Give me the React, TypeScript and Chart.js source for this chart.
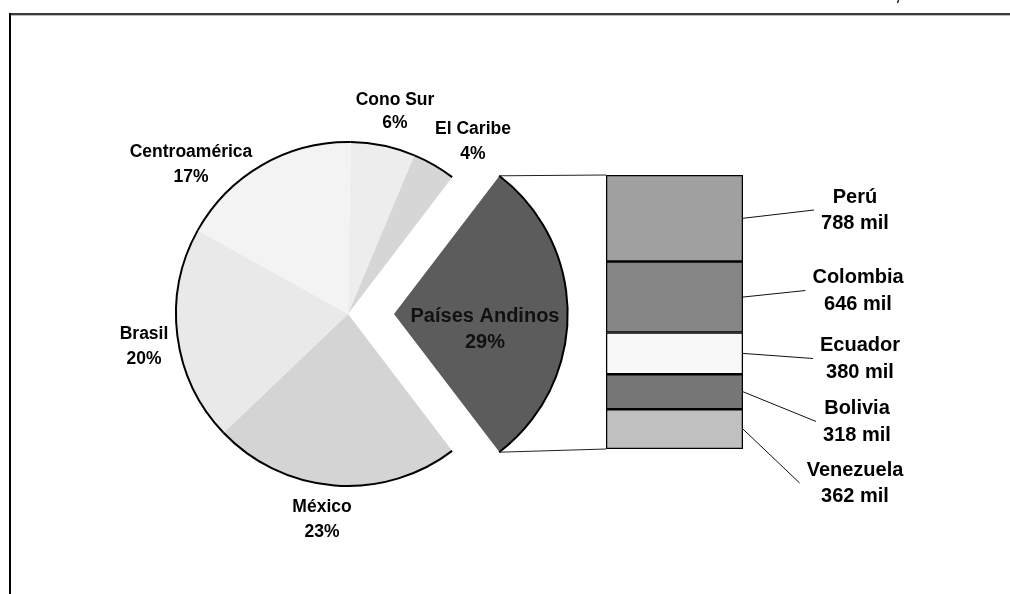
import React, { useEffect, useRef } from 'react';
import { Chart, registerables } from 'chart.js';

Chart.register(...registerables);

// ---- data ----
const pieLabels = ['Países Andinos', 'México', 'Brasil', 'Centroamérica', 'Cono Sur', 'El Caribe'];
const pieValues = [29, 23, 20, 17, 6, 4];
const pieColors = ['#5c5c5c', '#d4d4d4', '#e9e9e9', '#f3f3f3', '#ededed', '#d6d6d6'];

const barLabels = ['Perú', 'Colombia', 'Ecuador', 'Bolivia', 'Venezuela'];
const barValues = [788, 646, 380, 318, 362];
const barColors = ['#a0a0a0', '#868686', '#f8f8f8', '#777777', '#c0c0c0'];
const barUnit = 'mil';

// ---- layout (label centers: x, line1 y, line2 y) ----
const pieLabelPos = [
  [485, 316, 342],
  [322, 507, 532],
  [144, 334, 359],
  [191, 152, 177],
  [395, 100, 123],
  [473, 129, 154],
];
const barLabelPos = [
  [855, 197, 223],
  [858, 277, 304],
  [860, 345, 372],
  [857, 408, 435],
  [855, 470, 496],
];

const FONT_FAMILY = '"Liberation Sans", Arial, Helvetica, sans-serif';
const W = 1010;
const H = 594;

export default function App() {
  const barRef = useRef<HTMLCanvasElement | null>(null);
  const pieRef = useRef<HTMLCanvasElement | null>(null);

  useEffect(() => {
    if (!barRef.current || !pieRef.current) return;
    const barTotal = barValues.reduce((a, b) => a + b, 0);
    const pieTotal = pieValues.reduce((a, b) => a + b, 0);
    const n = barLabels.length;

    const barPlugin = {
      id: 'barDeco',
      afterDatasetsDraw(chart: any) {
        const ctx = chart.ctx as CanvasRenderingContext2D;
        ctx.save();
        ctx.font = `bold 20px ${FONT_FAMILY}`;
        ctx.textAlign = 'center';
        ctx.textBaseline = 'middle';
        for (let i = 0; i < n; i++) {
          const meta = chart.getDatasetMeta(n - 1 - i);
          const el = meta.data[0];
          const p = el.getProps(['x', 'y', 'base', 'width'], true);
          const right = p.x + p.width / 2;
          const midY = (p.y + p.base) / 2;
          const [cx, y1, y2] = barLabelPos[i];
          const l1 = barLabels[i];
          const l2 = `${barValues[i]} ${barUnit}`;
          const mw = Math.max(ctx.measureText(l1).width, ctx.measureText(l2).width);
          const endX = cx - mw / 2 - 7;
          const endY = (y1 + y2) / 2;
          ctx.strokeStyle = '#111';
          ctx.lineWidth = 1;
          ctx.beginPath();
          ctx.moveTo(right, midY);
          ctx.lineTo(endX, endY);
          ctx.stroke();
          ctx.fillStyle = '#000';
          ctx.fillText(l1, cx, y1);
          ctx.fillText(l2, cx, y2);
        }
        ctx.restore();
      },
    };

    const barChart = new Chart(barRef.current, {
      type: 'bar',
      data: {
        labels: ['Países Andinos'],
        datasets: barLabels
          .map((lab, i) => ({
            label: lab,
            data: [barValues[i]],
            backgroundColor: barColors[i],
            borderColor: '#000',
            borderWidth: 1.6,
            borderSkipped: false as any,
            barPercentage: 1,
            categoryPercentage: 1,
          }))
          .reverse(),
      },
      options: {
        responsive: false,
        animation: false,
        devicePixelRatio: 1,
        events: [],
        layout: { padding: { left: 606, right: W - 743, top: 175, bottom: H - 449 } },
        scales: {
          x: { display: false, stacked: true },
          y: { display: false, stacked: true, min: 0, max: barTotal },
        },
        plugins: { legend: { display: false }, tooltip: { enabled: false } },
      },
      plugins: [barPlugin],
    } as any);

    const piePlugin = {
      id: 'pieDeco',
      beforeDraw(chart: any) {
        const ctx = chart.ctx as CanvasRenderingContext2D;
        ctx.save();
        // frame
        ctx.fillStyle = '#3a3a3a';
        ctx.fillRect(9, 13, W - 9, 2);
        ctx.fillStyle = '#bdbdbd';
        ctx.fillRect(11, 15, W - 11, 1);
        ctx.fillStyle = '#000';
        ctx.fillRect(9, 13, 2, H - 13);
        // small mark at top
        ctx.strokeStyle = '#222';
        ctx.lineWidth = 1.5;
        ctx.beginPath();
        ctx.moveTo(898.5, 0);
        ctx.lineTo(897.5, 3);
        ctx.stroke();
        ctx.restore();
      },
      afterDatasetsDraw(chart: any) {
        const ctx = chart.ctx as CanvasRenderingContext2D;
        const meta = chart.getDatasetMeta(0);
        ctx.save();
        const geo = meta.data.map((arc: any) => {
          const p = arc.getProps(['x', 'y', 'startAngle', 'endAngle', 'outerRadius'], true);
          const off = (arc.options.offset || 0) / 4;
          const mid = (p.startAngle + p.endAngle) / 2;
          const circ = p.endAngle - p.startAngle;
          const fix = 1 - Math.sin(Math.min(Math.PI, circ));
          return {
            cx: p.x + Math.cos(mid) * off,
            cy: p.y + Math.sin(mid) * off,
            r: p.outerRadius + off * fix,
            s: p.startAngle,
            e: p.endAngle,
          };
        });
        // outer arcs
        ctx.strokeStyle = '#000';
        ctx.lineWidth = 2;
        geo.forEach((g: any) => {
          ctx.beginPath();
          ctx.arc(g.cx, g.cy, g.r, g.s, g.e);
          ctx.stroke();
        });
        // connectors to bar
        const g0 = geo[0];
        const topEl = barChart.getDatasetMeta(n - 1).data[0] as any;
        const botEl = barChart.getDatasetMeta(0).data[0] as any;
        const tp = topEl.getProps(['x', 'y', 'width'], true);
        const bp = botEl.getProps(['x', 'base', 'width'], true);
        ctx.strokeStyle = '#222';
        ctx.lineWidth = 1;
        ctx.beginPath();
        ctx.moveTo(g0.cx + g0.r * Math.cos(g0.s), g0.cy + g0.r * Math.sin(g0.s));
        ctx.lineTo(tp.x - tp.width / 2, tp.y);
        ctx.moveTo(g0.cx + g0.r * Math.cos(g0.e), g0.cy + g0.r * Math.sin(g0.e));
        ctx.lineTo(bp.x - bp.width / 2, bp.base);
        ctx.stroke();
        // labels
        ctx.textAlign = 'center';
        ctx.textBaseline = 'middle';
        pieLabels.forEach((lab, i) => {
          const [x, y1, y2] = pieLabelPos[i];
          ctx.font = i === 0 ? `bold 20px ${FONT_FAMILY}` : `bold 17.5px ${FONT_FAMILY}`;
          ctx.fillStyle = i === 0 ? '#111' : '#000';
          ctx.fillText(lab, x, y1);
          ctx.fillText(`${pieValues[i]}%`, x, y2);
        });
        ctx.restore();
      },
    };

    const pieChart = new Chart(pieRef.current, {
      type: 'pie',
      data: {
        labels: pieLabels,
        datasets: [
          {
            data: pieValues,
            backgroundColor: pieColors,
            borderWidth: 0,
            offset: pieValues.map((_, i) => (i === 0 ? 184 : 0)),
          },
        ],
      },
      options: {
        responsive: false,
        animation: false,
        devicePixelRatio: 1,
        events: [],
        rotation: 90 - (pieValues[0] / pieTotal) * 180,
        radius: 172,
        layout: { padding: { left: 176, right: W - 520, top: 142, bottom: H - 486 } },
        plugins: { legend: { display: false }, tooltip: { enabled: false } },
      },
      plugins: [piePlugin],
    } as any);

    return () => {
      pieChart.destroy();
      barChart.destroy();
    };
  }, []);

  const cs: React.CSSProperties = { position: 'absolute', left: 0, top: 0, width: W, height: H, display: 'block' };
  return (
    <div style={{ position: 'absolute', left: 0, top: 0, width: W, height: H, background: '#fff', overflow: 'hidden' }}>
      <canvas ref={barRef} width={W} height={H} style={cs} />
      <canvas ref={pieRef} width={W} height={H} style={cs} />
    </div>
  );
}
